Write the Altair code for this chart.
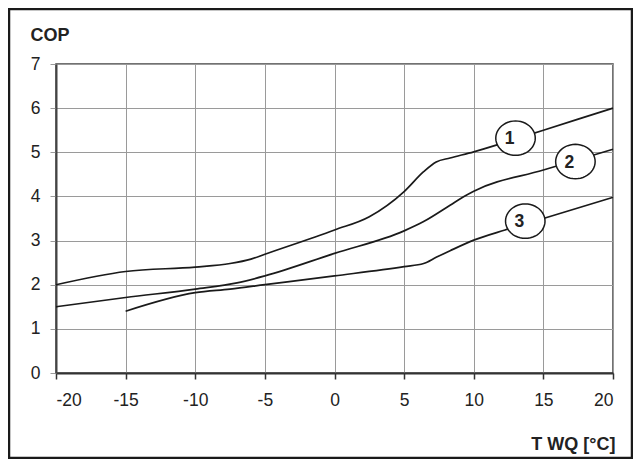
import math
import altair as alt
import pandas as pd

# Curve values
c1_x = [-20, -15, -10, -7.5, -6, -5, 0, 2.5, 5, 6.4, 7.3, 8.3, 10, 12, 15, 20]
c1_y = [2.0, 2.3, 2.4, 2.48, 2.58, 2.69, 3.24, 3.54, 4.11, 4.56, 4.78, 4.87, 5.01, 5.2, 5.5, 6.0]

c2_x = [-20, -15, -10, -7, -5, 0, 5, 6.4, 8.3, 9.3, 10, 15, 20]
c2_y = [1.5, 1.71, 1.9, 2.04, 2.2, 2.71, 3.22, 3.43, 3.8, 4.0, 4.12, 4.6, 5.07]

c3_x = [-15, -10, -7.5, -5, 0, 5, 6.4, 7.3, 8.3, 10, 12.25, 15, 20]
c3_y = [1.4, 1.82, 1.9, 2.0, 2.2, 2.41, 2.48, 2.62, 2.77, 3.01, 3.24, 3.5, 3.98]

label_x = [13.0, 17.3, 13.7]
label_y = [5.32, 4.79, 3.44]
label_text = ["1", "2", "3"]

x_ticks = [-20, -15, -10, -5, 0, 5, 10, 15, 20]
y_ticks = [0, 1, 2, 3, 4, 5, 6, 7]

rows = []
for name, xs, ys in (("1", c1_x, c1_y), ("2", c2_x, c2_y), ("3", c3_x, c3_y)):
    for xv, yv in zip(xs, ys):
        rows.append({"curve": name, "t": xv, "cop": yv})
curves = pd.DataFrame(rows)
labels = pd.DataFrame({"t": label_x, "cop": label_y, "txt": label_text})

FONT = "Liberation Sans"

# ellipse outline as a symbol shape (unit square, scaled by mark size)
pts = []
for i in range(48):
    a = 2 * math.pi * i / 48
    pts.append(f"{math.cos(a):.4f} {0.87 * math.sin(a):.4f}")
ellipse_path = "M " + " L ".join(pts) + " Z"

xscale = alt.Scale(domain=[-20, 20], nice=False, zero=False)
yscale = alt.Scale(domain=[0, 7], nice=False, zero=False)

xaxis = alt.Axis(
    values=x_ticks, title="T WQ [°C]", grid=True, gridColor="#9a9a9a", gridWidth=1,
    domainColor="#333333", domainWidth=2, tickColor="#333333", tickWidth=1.5, tickSize=6,
    labelFont=FONT, labelFontSize=17.5, labelColor="#222222", labelPadding=12,
    labelExpr="datum.value < 0 ? '-' + abs(datum.value) : '' + datum.value",
    titleFont=FONT, titleFontSize=18, titleFontWeight="bold", titleColor="#222222",
    titleAnchor="end", titleAlign="right", titleBaseline="alphabetic",
    titleX=559, titleY=76,
)
yaxis = alt.Axis(
    values=y_ticks, title="COP", grid=True, gridColor="#9a9a9a", gridWidth=1,
    domainColor="#444444", domainWidth=2, tickColor="#9a9a9a", tickWidth=1, tickSize=6,
    labelFont=FONT, labelFontSize=17.5, labelColor="#222222", labelPadding=10,
    titleFont=FONT, titleFontSize=18, titleFontWeight="bold", titleColor="#222222",
    titleAngle=0, titleAlign="left", titleBaseline="alphabetic",
    titleX=-26, titleY=-24,
)

lines = alt.Chart(curves).mark_line(
    color="#1a1a1a", strokeWidth=1.7, interpolate="monotone"
).encode(
    x=alt.X("t:Q", scale=xscale, axis=xaxis),
    y=alt.Y("cop:Q", scale=yscale, axis=yaxis),
    detail="curve:N",
)

ellipses = alt.Chart(labels).mark_point(
    shape=ellipse_path, size=1560, filled=True, fill="white", stroke="#1a1a1a",
    strokeWidth=1.5, opacity=1, fillOpacity=1,
).encode(
    x=alt.X("t:Q", scale=xscale),
    y=alt.Y("cop:Q", scale=yscale),
)
texts = alt.Chart(labels).mark_text(
    font=FONT, fontSize=17.5, fontWeight="bold", color="#222222",
    align="center", baseline="middle", dx=-6, dy=1,
).encode(
    x=alt.X("t:Q", scale=xscale),
    y=alt.Y("cop:Q", scale=yscale),
    text="txt:N",
)

border = alt.Chart(labels.head(1)).mark_rect(
    fill=None, filled=False, stroke="#1a1a1a", strokeWidth=2.5, clip=False,
).encode(
    x=alt.value(-47), x2=alt.value(576), y=alt.value(-55), y2=alt.value(394),
)

chart = alt.layer(lines, ellipses, texts, border).properties(
    width=557, height=309,
    autosize=alt.AutoSizeParams(type="none"),
    padding={"left": 48, "top": 56, "right": 20, "bottom": 86},
    background="white",
).configure_view(
    stroke="#444444", strokeWidth=1.5,
)

chart.save("out.html", embed_options={"renderer": "svg", "actions": False})
